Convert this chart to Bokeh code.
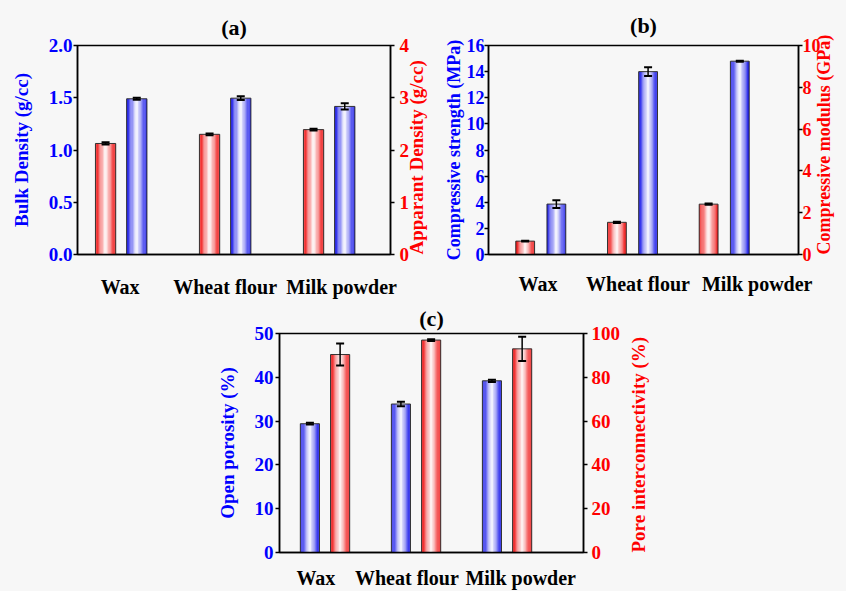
import numpy as np
from bokeh.plotting import figure
from bokeh.layouts import column, row
from bokeh.models import Range1d, LinearAxis, SingleIntervalTicker, FixedTicker, PrintfTickFormatter, Spacer
from bokeh.embed import file_html
from bokeh.resources import INLINE

categories = ["Wax", "Wheat flour", "Milk powder"]

bulk_density = [1.490, 1.496, 1.417]
bulk_density_err = [0.010, 0.018, 0.030]
apparent_density = [2.125, 2.300, 2.390]
apparent_density_err = [0.022, 0.018, 0.018]

compressive_strength = [3.86, 14.0, 14.8]
compressive_strength_err = [0.30, 0.33, 0.04]
compressive_modulus = [0.64, 1.54, 2.41]
compressive_modulus_err = [0.015, 0.030, 0.030]

open_porosity = [29.4, 33.9, 39.2]
open_porosity_err = [0.2, 0.5, 0.25]
pore_interconnectivity = [90.4, 97.0, 93.0]
pore_interconnectivity_err = [5.0, 0.4, 5.5]

FONT = "Liberation Serif"
BLUE = "#0000ff"
RED = "#ff0000"
BLUE_RGB = (30, 30, 235)
RED_RGB = (240, 25, 25)
BG = "#f7f7f7"

xpos = list(range(1, len(categories) + 1))


def gradient_bars(p, xs, vals, width, rgb, rname, n=16):
    for i in range(n):
        u = (i + 0.5) / n * 2 - 1
        t = min(1.0, abs(u) * 1.1) ** 1.0
        col = tuple(int(round(255 + (c - 255) * t)) for c in rgb)
        hexcol = "#%02x%02x%02x" % col
        p.vbar(x=[x + u * width / 2 for x in xs], width=width / n * 1.08, top=vals, bottom=0,
               fill_color=hexcol, line_color=None, y_range_name=rname)
    p.vbar(x=xs, width=width, top=vals, bottom=0, fill_alpha=0, line_color="#333333",
           line_width=1, y_range_name=rname)


def error_bars(p, xs, vals, errs, rname):
    lo = [v - e for v, e in zip(vals, errs)]
    hi = [v + e for v, e in zip(vals, errs)]
    p.segment(x0=xs, y0=lo, x1=xs, y1=hi, line_color="black", line_width=1.5, y_range_name=rname)
    p.scatter(x=xs + xs, y=lo + hi, marker="dash", size=8, line_color="black", line_width=2,
              y_range_name=rname)


def style_axis(ax, color, fs, tick_standoff, label_standoff):
    ax.axis_line_color = "black"
    ax.axis_line_width = 1.5
    ax.major_tick_line_color = "black"
    ax.major_tick_line_width = 1.5
    ax.major_tick_out = 4
    ax.major_tick_in = 0
    ax.minor_tick_line_color = None
    ax.major_label_text_font = FONT
    ax.major_label_text_font_style = "bold"
    ax.major_label_text_font_size = fs
    ax.major_label_text_color = color
    ax.major_label_standoff = tick_standoff
    ax.axis_label_text_font = FONT
    ax.axis_label_text_font_style = "bold"
    ax.axis_label_text_font_size = fs
    ax.axis_label_text_color = color
    ax.axis_label_standoff = label_standoff


def make_panel(title, width, height, borders, xr, left, right, series, fs, cat_standoff,
               lstand, rstand, label_ticks, title_standoff):
    p = figure(width=width, height=height, output_backend="svg", toolbar_location=None,
               x_range=Range1d(*xr), y_range=Range1d(0, left["max"]),
               min_border_left=borders[0], min_border_right=borders[1],
               min_border_top=borders[2], min_border_bottom=borders[3])
    p.background_fill_color = BG
    p.border_fill_color = BG
    p.outline_line_color = "black"
    p.outline_line_width = 1.5
    p.xgrid.visible = False
    p.ygrid.visible = False
    p.title.text = title
    p.title.align = "center"
    p.title.text_font = FONT
    p.title.text_font_size = "22px"
    p.title.text_font_style = "bold"
    p.title.text_color = "black"
    p.title.standoff = title_standoff

    p.extra_y_ranges = {"right": Range1d(0, right["max"])}
    ra = LinearAxis(y_range_name="right")
    p.add_layout(ra, "right")

    la = p.yaxis[0]
    la.ticker = SingleIntervalTicker(interval=left["step"], num_minor_ticks=0)
    la.formatter = PrintfTickFormatter(format=left["fmt"])
    la.axis_label = left["label"]
    style_axis(la, BLUE, fs, *lstand)

    ra.ticker = SingleIntervalTicker(interval=right["step"], num_minor_ticks=0)
    ra.formatter = PrintfTickFormatter(format=right["fmt"])
    ra.axis_label = right["label"]
    style_axis(ra, RED, fs, *rstand)
    # read bottom-to-top, like the left axis title; text starts at the bottom of the axis
    ra.axis_label_orientation = np.pi / 2
    try:
        ra.axis_label_align = "start"
    except AttributeError:
        pass

    xa = p.xaxis[0]
    xa.ticker = FixedTicker(ticks=label_ticks)
    xa.major_label_overrides = {x: c for x, c in zip(label_ticks, categories)}
    xa.axis_line_color = "black"
    xa.axis_line_width = 1.5
    xa.major_tick_line_color = None
    xa.minor_tick_line_color = None
    xa.major_label_text_font = FONT
    xa.major_label_text_font_style = "bold"
    xa.major_label_text_font_size = "20px"
    xa.major_label_text_color = "black"
    xa.major_label_standoff = cat_standoff

    for s in series:
        xs = [x + s["off"] for x in xpos]
        gradient_bars(p, xs, s["vals"], s["w"], s["rgb"], s["rname"])
    for s in series:
        xs = [x + s["off"] for x in xpos]
        error_bars(p, xs, s["vals"], s["errs"], s["rname"])
    return p


pa = make_panel(
    "(a)", 440, 300, (77, 46, 40, 42), (0.58, 3.59),
    dict(max=2.0, step=0.5, fmt="%.1f", label="Bulk Density (g/cc)"),
    dict(max=4, step=1, fmt="%d", label="Apparant Density (g/cc)"),
    [dict(off=-0.15, w=0.195, vals=apparent_density, errs=apparent_density_err, rgb=RED_RGB, rname="right"),
     dict(off=0.15, w=0.195, vals=bulk_density, errs=bulk_density_err, rgb=BLUE_RGB, rname="default")],
    "19px", 15, (1, 14), (5, 4), [0.99, 2.0, 3.12], 12)

pb = make_panel(
    "(b)", 406, 300, (48, 44, 45, 37), (0.43, 3.81),
    dict(max=16, step=2, fmt="%d", label="Compressive strength (MPa)"),
    dict(max=10, step=2, fmt="%d", label="Compressive modulus (GPa)"),
    [dict(off=-0.17, w=0.205, vals=compressive_modulus, errs=compressive_modulus_err, rgb=RED_RGB, rname="right"),
     dict(off=0.17, w=0.205, vals=compressive_strength, errs=compressive_strength_err, rgb=BLUE_RGB, rname="default")],
    "18px", 12, (0, 0), (0, 0), [0.97, 2.06, 3.36], 15)

pc = make_panel(
    "(c)", 463, 291, (79, 80, 33, 39), (0.50, 3.84),
    dict(max=50, step=10, fmt="%d", label="Open porosity (%)"),
    dict(max=100, step=20, fmt="%d", label="Pore interconnectivity (%)"),
    [dict(off=-0.166, w=0.21, vals=open_porosity, errs=open_porosity_err, rgb=BLUE_RGB, rname="default"),
     dict(off=0.166, w=0.21, vals=pore_interconnectivity, errs=pore_interconnectivity_err, rgb=RED_RGB, rname="right")],
    "19px", 8, (2, 14), (4, 15), [0.9, 1.9, 3.15], 6)

layout = column(row(pa, pb), row(Spacer(width=200, height=291, styles={"background-color": BG}), pc,
                                 Spacer(width=183, height=291, styles={"background-color": BG})),
                styles={"background-color": BG})

open("out.html", "w").write(file_html(layout, INLINE))
